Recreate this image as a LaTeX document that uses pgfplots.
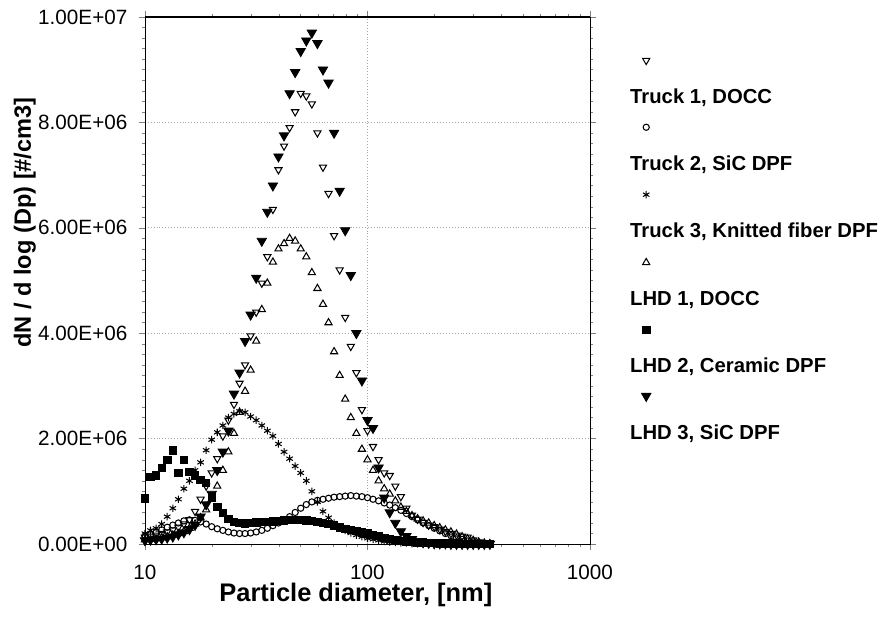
\documentclass[border=0pt]{standalone}
\usepackage{pgfplots}
\pgfplotsset{compat=1.18}
\usepackage{pgfplotstable}
\usepackage{fontspec}
\setmainfont{Liberation Sans}

% particle size distributions, values in 1e6 #/cm3
\pgfplotstableread{
d     t1   t2   t3   l1   l2   l3
10.00 0.13 0.15 0.20 0.08 0.87 0.07
10.59 0.15 0.18 0.26 0.09 1.27 0.08
11.22 0.17 0.22 0.30 0.10 1.30 0.09
11.89 0.20 0.27 0.38 0.12 1.44 0.10
12.59 0.23 0.32 0.52 0.14 1.60 0.12
13.34 0.27 0.36 0.68 0.17 1.78 0.14
14.13 0.32 0.40 0.85 0.20 1.35 0.18
14.96 0.38 0.44 1.05 0.24 1.60 0.22
15.85 0.46 0.46 1.20 0.30 1.37 0.28
16.79 0.62 0.45 1.40 0.38 1.30 0.36
17.78 0.85 0.42 1.55 0.50 1.22 0.52
18.84 1.10 0.38 1.78 0.65 1.16 0.75
19.95 1.35 0.33 1.98 0.85 0.89 0.95
21.13 1.62 0.29 2.12 1.10 0.70 1.40
22.39 2.05 0.26 2.25 1.40 0.59 1.75
23.71 2.35 0.23 2.40 1.75 0.48 2.15
25.12 2.65 0.21 2.47 2.10 0.42 2.85
26.61 3.05 0.20 2.52 2.50 0.40 3.25
28.18 3.40 0.20 2.50 2.90 0.39 3.85
29.85 3.95 0.21 2.42 3.30 0.40 4.35
31.62 4.40 0.23 2.35 3.85 0.41 5.05
33.50 4.95 0.26 2.25 4.45 0.42 5.75
35.48 5.45 0.30 2.15 4.95 0.42 6.30
37.58 6.35 0.35 2.05 5.35 0.43 6.80
39.81 7.10 0.40 1.90 5.60 0.44 7.35
42.17 7.55 0.46 1.75 5.70 0.45 7.75
44.67 7.90 0.52 1.62 5.80 0.46 8.55
47.32 8.20 0.60 1.48 5.75 0.46 8.95
50.12 8.55 0.68 1.35 5.60 0.46 9.35
53.09 8.50 0.75 1.20 5.45 0.45 9.55
56.23 8.35 0.80 1.00 5.15 0.44 9.70
59.57 7.80 0.83 0.80 4.85 0.42 9.50
63.10 7.15 0.85 0.62 4.55 0.40 9.00
66.83 6.65 0.87 0.50 4.20 0.38 8.75
70.79 5.85 0.89 0.40 3.65 0.35 7.80
74.99 5.20 0.90 0.32 3.20 0.32 6.70
79.43 4.30 0.91 0.26 2.75 0.29 5.95
84.14 3.75 0.92 0.21 2.40 0.27 5.10
89.13 3.25 0.91 0.17 2.10 0.25 4.00
94.41 2.55 0.90 0.14 1.80 0.22 3.10
100.0 2.15 0.88 0.11 1.60 0.20 2.35
105.9 1.85 0.85 0.09 1.40 0.17 2.20
112.2 1.60 0.82 0.07 1.20 0.15 1.45
118.9 1.35 0.78 0.05 1.05 0.12 0.88
125.9 1.30 0.74 0.04 0.95 0.10 0.60
133.4 1.10 0.69 0.03 0.82 0.08 0.40
141.3 0.90 0.64 0.02 0.70 0.06 0.24
149.6 0.68 0.58 0.02 0.62 0.05 0.15
158.5 0.55 0.52 0.01 0.54 0.04 0.09
167.9 0.47 0.46 0.01 0.48 0.03 0.05
177.8 0.41 0.40 0.01 0.44 0.03 0.03
188.4 0.36 0.35 0.01 0.40 0.02 0.02
199.5 0.33 0.30 0.01 0.35 0.02 0.01
211.3 0.28 0.25 0.00 0.31 0.01 0.01
223.9 0.24 0.20 0.00 0.27 0.01 0.01
237.1 0.20 0.16 0.00 0.23 0.01 0.00
251.2 0.17 0.12 0.00 0.19 0.01 0.00
266.1 0.15 0.09 0.00 0.14 0.00 0.00
281.8 0.13 0.06 0.00 0.10 0.00 0.00
298.5 0.08 0.04 0.00 0.07 0.00 0.00
316.2 0.04 0.02 0.00 0.04 0.00 0.00
335.0 0.02 0.01 0.00 0.02 0.00 0.00
354.8 0.01 0.00 0.00 0.01 0.00 0.00
}\psd

% legend: marker sits above its text
\pgfplotsset{legmark/.style={legend image code/.code={\draw[##1] plot coordinates {(0pt,18pt)};}}}

\begin{document}
\begin{tikzpicture}
\begin{axis}[
  name=ax,
  scale only axis,
  width=215.2pt, height=254.9pt,
  xmode=log, xmin=10, xmax=1000,
  ymin=0, ymax=10,
  xtick={10,100,1000}, xticklabels={10,100,1000},
  ytick={0,2,4,6,8,10},
  yticklabels={0.00E+00,2.00E+06,4.00E+06,6.00E+06,8.00E+06,1.00E+07},
  minor y tick num=9,
  ymajorgrids, xmajorgrids,
  major grid style={densely dotted, black!35},
  tick align=outside,
  major tick length=3pt, minor tick length=1.5pt,
  ticklabel style={font=\fontsize{10}{12}\selectfont},
  xticklabel style={yshift=-6pt, inner sep=1pt},
  yticklabel style={xshift=-2pt},
  xlabel={Particle diameter, [nm]},
  ylabel={dN / d log (Dp) [\#/cm3]},
  xlabel style={at={(axis description cs:0.474,-0.097)}, anchor=center,
    inner sep=1pt, font=\bfseries\fontsize{12.3}{14}\selectfont},
  ylabel style={at={(axis description cs:-0.27,0.61)}, anchor=center,
    font=\bfseries\fontsize{11.4}{13}\selectfont},
  legend cell align=left,
  legend style={draw=none, fill=none, at={(axis description cs:1.101,0.93)},
    anchor=north west, font=\bfseries\fontsize{9.8}{11}\selectfont,
    row sep=6.5pt, column sep=-12pt},
]
\addplot[only marks, mark=triangle, mark size=2pt, black,
  mark options={rotate=180, line width=0.5pt}, legmark] table[x=d, y=t1] {\psd};
\addlegendentry{Truck 1, DOCC}
\addplot[only marks, mark=o, mark size=1.5pt, black,
  mark options={line width=0.5pt}, legmark] table[x=d, y=t2] {\psd};
\addlegendentry{Truck 2, SiC DPF}
\addplot[only marks, mark=asterisk, mark size=1.8pt, black,
  mark options={line width=0.5pt}, legmark] table[x=d, y=t3] {\psd};
\addlegendentry{Truck 3, Knitted fiber DPF}
\addplot[only marks, mark=triangle, mark size=2pt, black,
  mark options={line width=0.5pt}, legmark] table[x=d, y=l1] {\psd};
\addlegendentry{LHD 1, DOCC}
\addplot[only marks, mark=square*, mark size=1.8pt, black, legmark]
  table[x=d, y=l2] {\psd};
\addlegendentry{LHD 2, Ceramic DPF}
\addplot[only marks, mark=triangle*, mark size=2.6pt, black,
  mark options={rotate=180}, legmark] table[x=d, y=l3] {\psd};
\addlegendentry{LHD 3, SiC DPF}
\draw[line width=1.2pt] (rel axis cs:0,1) -- (rel axis cs:1,1);
\end{axis}
\pgfresetboundingbox
\path[use as bounding box] ([xshift=-70.1pt,yshift=-35.8pt]ax.south west)
  rectangle ([xshift=141.2pt,yshift=8.2pt]ax.north east);
\end{tikzpicture}
\end{document}
